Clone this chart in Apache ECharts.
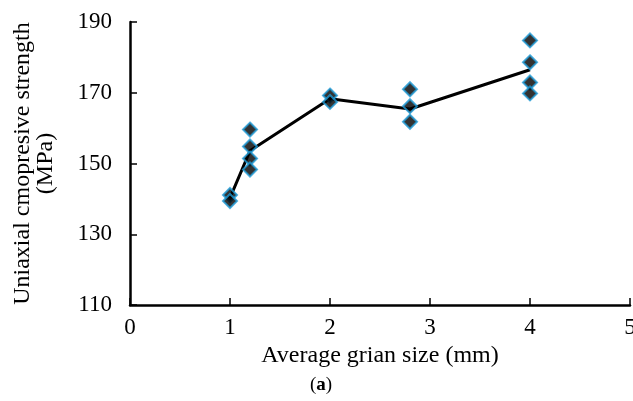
<!DOCTYPE html>
<html>
<head>
<meta charset="utf-8">
<script src="https://cdn.jsdelivr.net/npm/echarts@6/dist/echarts.min.js"></script>
<style>
  html, body { margin: 0; padding: 0; background: #fff; }
  #chart { width: 633px; height: 401px; }
</style>
</head>
<body>
<div id="chart"></div>
<script>
// Grain size of each tested specimen (mm) and its measured UCS (MPa)
const sampleGrainSize = [1, 1, 1.2, 1.2, 1.2, 1.2, 2, 2, 2.8, 2.8, 2.8, 4, 4, 4, 4];
const sampleStrength = [141.1, 139.4, 159.6, 154.8, 151.4, 148.3, 169.2, 167.4, 171.0, 166.2, 161.8, 184.8, 178.6, 172.9, 169.8];

// Average strength at each grain size
const meanGrainSize = [1, 1.2, 2, 2.8, 4];
const meanStrength = [140.3, 153.6, 168.3, 165.4, 176.5];

// Axis ticks
const xTicks = [0, 1, 2, 3, 4, 5];
const yTicks = [110, 130, 150, 170, 190];

const serif = '"Liberation Serif", "Times New Roman", serif';

const chart = echarts.init(document.getElementById('chart'), null, { renderer: 'canvas' });

chart.setOption({
  animation: false,
  backgroundColor: '#fff',
  title: {
    text: '({b|a})',
    left: 305,
    top: 371,
    textStyle: {
      fontFamily: serif,
      fontSize: 19,
      fontWeight: 'normal',
      color: '#000',
      rich: { b: { fontFamily: serif, fontSize: 19, fontWeight: 'bold', color: '#000' } }
    }
  },
  grid: { left: 130, top: 22, width: 500, bottom: 96, containLabel: false, outerBoundsMode: 'none' },
  xAxis: {
    type: 'value',
    min: xTicks[0],
    max: xTicks[xTicks.length - 1],
    interval: 1,
    name: 'Average grian size (mm)',
    nameLocation: 'middle',
    nameGap: 37,
    nameTextStyle: { fontFamily: serif, fontSize: 24, color: '#000' },
    axisLine: { lineStyle: { color: '#000', width: 2.5 } },
    axisTick: { inside: true, length: 7, lineStyle: { color: '#000', width: 1.5 } },
    axisLabel: { fontFamily: serif, fontSize: 23, color: '#000', margin: 11 },
    splitLine: { show: false }
  },
  yAxis: {
    type: 'value',
    min: yTicks[0],
    max: yTicks[yTicks.length - 1],
    interval: 20,
    name: 'Uniaxial cmopresive strength\n(MPa)',
    nameLocation: 'middle',
    nameRotate: 90,
    nameGap: 73,
    nameTextStyle: { fontFamily: serif, fontSize: 24, color: '#000', lineHeight: 23 },
    axisLine: { show: true, lineStyle: { color: '#000', width: 2.5 } },
    axisTick: { show: true, inside: true, length: 7, lineStyle: { color: '#000', width: 1.5 } },
    axisLabel: { fontFamily: serif, fontSize: 23, color: '#000', margin: 18 },
    splitLine: { show: false }
  },
  series: [
    {
      type: 'line',
      data: meanGrainSize.map((x, i) => [x, meanStrength[i]]),
      showSymbol: false,
      symbol: 'none',
      lineStyle: { color: '#000', width: 3 },
      z: 2
    },
    {
      type: 'scatter',
      data: sampleGrainSize.map((x, i) => [x, sampleStrength[i]]),
      symbol: 'diamond',
      symbolSize: [14, 14],
      itemStyle: { color: '#000', borderColor: '#1e9ad6', borderWidth: 2 },
      z: 3
    }
  ]
});
</script>
</body>
</html>
